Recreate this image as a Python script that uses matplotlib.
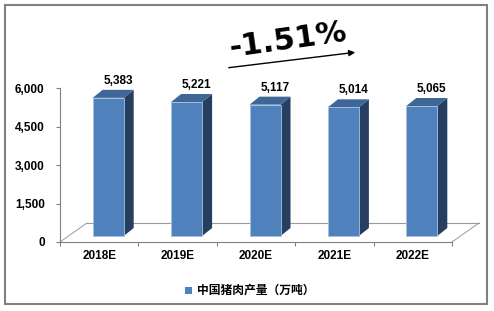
import numpy as np
import matplotlib
matplotlib.use('Agg')
from matplotlib import pyplot as plt
from matplotlib.patches import Polygon, Rectangle

# data
years = ['2018E', '2019E', '2020E', '2021E', '2022E']
output = [5383, 5221, 5117, 5014, 5065]
value_labels = ['5,383', '5,221', '5,117', '5,014', '5,065']
yticks = [0, 1500, 3000, 4500, 6000]
ytick_labels = ['0', '1,500', '3,000', '4,500', '6,000']
legend_label = '中国猪肉产量（万吨）'
cagr_text = '-1.51%'

plt.rcParams['font.family'] = ['Liberation Sans', 'Noto Sans CJK SC', 'DejaVu Sans']

W, H = 494, 311
fig = plt.figure(figsize=(W / 100, H / 100), dpi=100)

# axes box in pixels: front edge of the floor
ax_l, ax_r, ax_b, ax_t = 60, 452, 242, 88
ax = fig.add_axes([ax_l / W, 1 - ax_b / H, (ax_r - ax_l) / W, (ax_b - ax_t) / H])
ax.set_xlim(0, len(years))
ax.set_ylim(0, 6000)

# pixel -> data conversion
px_x = len(years) / (ax_r - ax_l)
px_y = 6000 / (ax_b - ax_t)

front = '#4F81BD'
side = '#263F60'
top = '#3E6797'
edge = '#A7C0DE'

# floor parallelogram (3d depth)
fdx, fdy = 27 * px_x, 19 * px_y
floor_col = '#9A9A9A'
ax.plot([0, fdx], [0, fdy], color=floor_col, lw=0.7, clip_on=False)
ax.plot([len(years), len(years) + fdx], [0, fdy], color=floor_col, lw=0.7, clip_on=False)
ax.plot([fdx, len(years) + fdx], [fdy, fdy], color=floor_col, lw=0.8, clip_on=False, zorder=1)

# bars
bw = 31 * px_x
ox, oy = 9 * px_x, 6 * px_y     # bar front offset into the floor
dx, dy = 10 * px_x, 8 * px_y    # bar depth
for i, v in enumerate(output):
    x0 = i + 0.5 + ox - bw / 2
    x1 = x0 + bw
    y0, y1 = oy, v + oy
    ax.add_patch(Polygon([[x1, y0], [x1 + dx, y0 + dy], [x1 + dx, y1 + dy], [x1, y1]],
                         closed=True, fc=side, ec='none', clip_on=False, zorder=3))
    ax.add_patch(Polygon([[x0, y1], [x1, y1], [x1 + dx, y1 + dy], [x0 + dx, y1 + dy]],
                         closed=True, fc=top, ec='none', clip_on=False, zorder=3))
    ax.add_patch(Rectangle((x0, y0), bw, v, fc=front, ec=edge, lw=0.6,
                           clip_on=False, zorder=4))
    ax.text(x0 + bw / 2 + dx, y1 + dy + 3 * px_y, value_labels[i], ha='center', va='bottom',
            fontsize=8.5, fontweight='bold', color='black', clip_on=False)

# axes styling
for s in ['top', 'right']:
    ax.spines[s].set_visible(False)
ax.spines['left'].set_color('#808080')
ax.spines['bottom'].set_color('#808080')
ax.spines['left'].set_linewidth(0.8)
ax.spines['bottom'].set_linewidth(0.8)
ax.set_yticks(yticks)
ax.set_yticklabels(ytick_labels, fontsize=8.5, fontweight='bold')
ax.set_xticks(np.arange(len(years) + 1))
ax.set_xticklabels([])
ax.set_xticks(np.arange(len(years)) + 0.5, minor=True)
ax.set_xticklabels(years, minor=True, fontsize=8.5, fontweight='bold')
ax.tick_params(axis='x', which='minor', length=0, pad=6)
ax.tick_params(axis='both', which='major', length=3, color='#808080', width=0.8)
ax.tick_params(axis='y', pad=8)
ax.patch.set_alpha(0)

# growth annotation
fig.text(288 / W, 1 - 40 / H, cagr_text, fontsize=22, fontweight='semibold', rotation=8,
         ha='center', va='center', family='DejaVu Sans')
fig.add_artist(plt.Annotation('', xy=(358 / W, 1 - 52 / H), xytext=(226 / W, 1 - 68 / H),
                              xycoords='figure fraction',
                              arrowprops=dict(arrowstyle='-|>', color='black', lw=1.0,
                                              mutation_scale=9)))

# legend
fig.patches.append(Rectangle((185 / W, 1 - 294 / H), 7 / W, 7 / H, fc=front,
                             ec='none', transform=fig.transFigure))
fig.text(197 / W, 1 - 290.5 / H, legend_label, fontsize=8.5, fontweight='bold',
         ha='left', va='center', family=['Noto Sans CJK SC', 'DejaVu Sans'])

# outer frame
fig.patches.append(Rectangle((5 / W, 1 - 304 / H), 482 / W, 299 / H, fill=False,
                             ec='#808080', lw=1.5, transform=fig.transFigure))

fig.savefig('out.png', dpi=100)
